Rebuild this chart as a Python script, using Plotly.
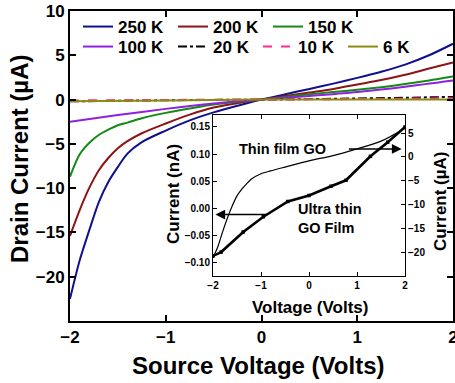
import plotly.graph_objects as go

# ---------------- data ----------------
x_250 = [-2, -1.9, -1.8, -1.7, -1.6, -1.5, -1.4, -1.25, -1.0, -0.75, -0.5, -0.25, 0, 0.25, 0.5, 0.75, 1.0, 1.25, 1.5, 1.75, 2]
y_250 = [-22.5, -18.2, -14.8, -11.6, -9.3, -7.6, -6.1, -4.8, -3.5, -2.35, -1.45, -0.7, 0, 0.6, 1.2, 1.8, 2.45, 3.15, 3.95, 5.0, 6.3]
x_200 = [-2, -1.9, -1.8, -1.7, -1.6, -1.5, -1.4, -1.25, -1.0, -0.75, -0.5, -0.25, 0, 0.25, 0.5, 0.75, 1.0, 1.25, 1.5, 1.75, 2]
y_200 = [-15.4, -12.5, -10.0, -8.0, -6.6, -5.5, -4.7, -3.8, -2.7, -1.7, -0.9, -0.4, 0, 0.4, 0.8, 1.2, 1.7, 2.2, 2.8, 3.5, 4.2]
x_150 = [-2, -1.9, -1.8, -1.7, -1.6, -1.5, -1.4, -1.25, -1.0, -0.75, -0.5, -0.25, 0, 0.25, 0.5, 0.75, 1.0, 1.25, 1.5, 1.75, 2]
y_150 = [-8.7, -6.2, -4.9, -4.0, -3.4, -2.9, -2.6, -2.1, -1.5, -1.0, -0.55, -0.25, 0, 0.3, 0.6, 0.85, 1.1, 1.4, 1.75, 2.15, 2.6]
x_100 = [-2, -1.5, -1.0, -0.5, 0, 0.5, 1.0, 1.5, 2]
y_100 = [-2.5, -1.75, -1.05, -0.45, 0, 0.4, 0.85, 1.45, 2.15]
x_20 = [-2, -1, 0, 1, 2]
y_20 = [-0.2, -0.08, 0, 0.12, 0.3]
x_10 = [-2, -1, 0, 1, 2]
y_10 = [-0.1, -0.04, 0, 0.06, 0.15]
x_6 = [-2, -1, 0, 1, 2]
y_6 = [-0.2, -0.1, 0, 0.0, 0.0]

series_names = ["250 K", "200 K", "150 K", "100 K", "20 K", "10 K", "6 K"]

# inset: thin film GO (right axis, uA)
x_thin = [-2, -1.9, -1.8, -1.7, -1.6, -1.5, -1.4, -1.3, -1.2, -1.0, -0.8, -0.5, 0, 0.5, 1.0, 1.5, 2.0]
y_thin = [-21, -18.7, -15.6, -12.7, -10.2, -8.1, -6.7, -5.6, -4.6, -3.5, -2.9, -2.1, -0.8, 0.3, 1.7, 3.3, 6.0]
# inset: ultra thin GO film (left axis, nA)
x_ultra = [-2, -1.83, -1.37, -0.95, -0.44, 0, 0.46, 0.77, 1.28, 1.64, 2.0]
y_ultra = [-0.087, -0.080, -0.043, -0.015, 0.013, 0.024, 0.041, 0.052, 0.096, 0.122, 0.150]

main_xticks = [-2, -1, 0, 1, 2]
main_yticks = [-20, -15, -10, -5, 0, 5, 10]
inset_xticks = [-2, -1, 0, 1, 2]
inset_lticks = [-0.10, -0.05, 0.00, 0.05, 0.10, 0.15]
inset_rticks = [-20, -15, -10, -5, 0, 5]

# ---------------- layout geometry ----------------
W, H = 455, 383
L, R, T, B = 70, 453, 11, 321
def px(xp):
    return (xp - L) / (R - L)
def py(yp):
    return (B - yp) / (B - T)

FONT = "Liberation Sans"
colors = ["#10108c", "#8c1414", "#138a13", "#9020e0", "#000000", "#ff2a8f", "#8c8c14"]
dashes = ["solid", "solid", "solid", "solid", "dashdot", "dash", "solid"]
entry_w = [50, 50, None, 50, 40, 40, None]
xs = [x_250, x_200, x_150, x_100, x_20, x_10, x_6]
ys = [y_250, y_200, y_150, y_100, y_20, y_10, y_6]

fig = go.Figure()
for i, (nm, xv, yv) in enumerate(zip(series_names, xs, ys)):
    kw = {}
    if entry_w[i]:
        kw["legendwidth"] = entry_w[i]
    fig.add_trace(go.Scatter(
        x=xv, y=yv, name=nm, mode="lines",
        line=dict(color=colors[i], width=2, dash=dashes[i], shape="spline", smoothing=0.8),
        legend="legend" if i < 3 else "legend2",
        xaxis="x", yaxis="y", **kw))

fig.add_trace(go.Scatter(x=x_thin, y=y_thin, mode="lines", showlegend=False,
                         line=dict(color="black", width=1.2, shape="spline", smoothing=0.8),
                         xaxis="x2", yaxis="y3"))
fig.add_trace(go.Scatter(x=x_ultra, y=y_ultra, mode="lines+markers", showlegend=False,
                         line=dict(color="black", width=2.6),
                         marker=dict(color="black", size=3.5, symbol="square"),
                         xaxis="x2", yaxis="y2"))

tickfont_main = dict(family=FONT, size=17, color="black", weight="bold")
tickfont_in = dict(family=FONT, size=10, color="black", weight="bold")
ax_common = dict(showline=True, linecolor="black", showgrid=False, zeroline=False,
                 ticks="inside", tickcolor="black")

ix0, ix1 = px(213), px(405)
iy0, iy1 = py(276), py(115)

legfont = dict(family=FONT, size=17, color="black", weight="bold")
fig.update_layout(
    width=W, height=H,
    margin=dict(l=L, r=W - R, t=T, b=H - B, pad=0, autoexpand=False),
    paper_bgcolor="white", plot_bgcolor="white",
    font=dict(family=FONT, color="black"),
    xaxis=dict(**ax_common, range=[-2, 2], tickvals=main_xticks, linewidth=2, ticklen=6,
               tickwidth=1.5, mirror="ticks", tickfont=tickfont_main, domain=[0, 1], anchor="y",
               ticklabeloverflow="allow"),
    yaxis=dict(**ax_common, range=[-25, 10], tickvals=main_yticks, linewidth=2, ticklen=6,
               tickwidth=1.5, mirror="ticks", tickfont=tickfont_main, domain=[0, 1], anchor="x",
               ticklabeloverflow="allow"),
    xaxis2=dict(**ax_common, range=[-2, 2], tickvals=inset_xticks, linewidth=1, ticklen=4,
                mirror="ticks", tickfont=tickfont_in, domain=[ix0, ix1], anchor="y2"),
    yaxis2=dict(**ax_common, range=[-0.124, 0.172], tickvals=inset_lticks, tickformat=".2f",
                linewidth=1, ticklen=4, tickfont=tickfont_in, domain=[iy0, iy1], anchor="x2"),
    yaxis3=dict(**ax_common, range=[-24.8, 8.75], tickvals=inset_rticks, linewidth=1, ticklen=4,
                tickfont=tickfont_in, overlaying="y2", side="right", anchor="x2"),
    legend=dict(orientation="h", x=px(78), xanchor="left", y=py(27), yanchor="middle",
                font=legfont, bgcolor="rgba(0,0,0,0)", itemwidth=30, tracegroupgap=0),
    legend2=dict(orientation="h", x=px(78), xanchor="left", y=py(47), yanchor="middle",
                 font=legfont, bgcolor="rgba(0,0,0,0)", itemwidth=30, tracegroupgap=0),
    showlegend=True,
)

def ann(text, xp, yp, size, angle=0, xanchor="center", align="center"):
    fig.add_annotation(text=text, x=px(xp), y=py(yp), xref="paper", yref="paper",
                       showarrow=False, textangle=angle, xanchor=xanchor, yanchor="middle",
                       align=align,
                       font=dict(family=FONT, size=size, color="black", weight="bold"))

# main axis titles
ann("Source Voltage (Volts)", 258, 365, 24)
ann("Drain Current (\u00b5A)", 19, 159, 24, angle=-90)
# inset axis titles
ann("Voltage (Volts)", 310, 307, 17)
ann("Current (nA)", 173, 194, 17, angle=-90)
ann("Current (\u00b5A)", 440, 201, 17, angle=-90)
# inset labels
ann("Thin film GO", 237, 149, 14.5, xanchor="left")
ann("Ultra thin<br>GO Film", 296, 219, 14.5, xanchor="left", align="left")

# arrows
fig.add_annotation(x=1.93, y=1.67, ax=0.80, ay=1.67, xref="x2", yref="y3", axref="x2", ayref="y3",
                   text="", showarrow=True, arrowhead=2, arrowsize=1.3, arrowwidth=1.5, arrowcolor="black")
fig.add_annotation(x=-1.95, y=-0.011, ax=-0.85, ay=-0.011, xref="x2", yref="y2", axref="x2", ayref="y2",
                   text="", showarrow=True, arrowhead=2, arrowsize=1.3, arrowwidth=1.5, arrowcolor="black")

fig.write_html("out.html", config={"displayModeBar": False},
               post_script="document.body.style.margin='0';")
